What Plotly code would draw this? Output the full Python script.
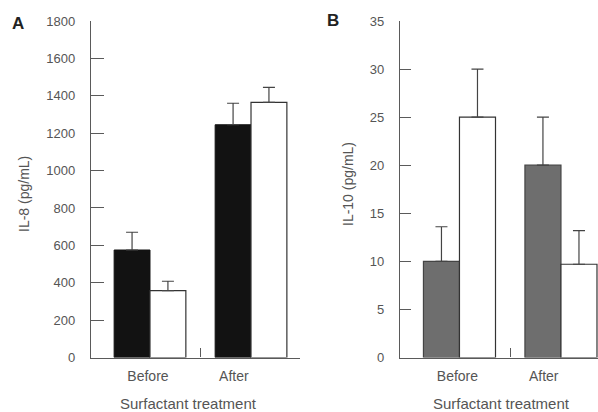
import plotly.graph_objects as go

W, H = 598, 412

groups = ["Before", "After"]
group_pos = [0, 1]
label_pos = [-0.02, 0.83]

il8_black = [575, 1245]
il8_black_err = [95, 115]
il8_white = [358, 1365]
il8_white_err = [50, 80]

il10_gray = [10, 20]
il10_gray_err = [3.6, 5]
il10_white = [25, 9.7]
il10_white_err = [5, 3.5]

il8_ticks = list(range(0, 1801, 200))
il10_ticks = list(range(0, 36, 5))

TXT = "#555555"
AX = "#5a5a5a"
FONT = "Liberation Sans, Arial, sans-serif"


def px(x):
    return x / W


def py(y):
    return 1 - y / H


def err(vals):
    return dict(type="data", symmetric=False, array=vals, arrayminus=[0] * len(vals),
                color="#444444", thickness=1.2, width=6)


fig = go.Figure()
fig.add_bar(x=group_pos, y=il8_black, error_y=err(il8_black_err), marker=dict(color="#121212", line=dict(color="#121212", width=1)),
            xaxis="x", yaxis="y", offsetgroup="a1", showlegend=False)
fig.add_bar(x=group_pos, y=il8_white, error_y=err(il8_white_err), marker=dict(color="white", line=dict(color="#333333", width=1.2)),
            xaxis="x", yaxis="y", offsetgroup="a2", showlegend=False)
fig.add_bar(x=group_pos, y=il10_gray, error_y=err(il10_gray_err), marker=dict(color="#6e6e6e", line=dict(color="#444444", width=1.2)),
            xaxis="x2", yaxis="y2", offsetgroup="b1", showlegend=False)
fig.add_bar(x=group_pos, y=il10_white, error_y=err(il10_white_err), marker=dict(color="white", line=dict(color="#333333", width=1.2)),
            xaxis="x2", yaxis="y2", offsetgroup="b2", showlegend=False)

ydom = [py(357.5), py(21)]

xcommon = dict(showline=True, linecolor=AX, linewidth=1.3, showgrid=False, zeroline=False, automargin=False,
               tickmode="array", tickvals=label_pos, ticktext=groups, ticks="", ticklabelstandoff=6,
               tickfont=dict(family=FONT, size=14, color=TXT),
               minor=dict(tickmode="array", tickvals=[0.5], ticks="inside", ticklen=9, tickcolor=AX, tickwidth=1.3))
ycommon = dict(showline=True, linecolor=AX, linewidth=1.3, showgrid=False, zeroline=False, automargin=False,
               tickmode="array", ticks="inside", tickcolor=AX, tickwidth=1.3, ticklabelstandoff=12,
               tickfont=dict(family=FONT, size=13, color=TXT), domain=ydom)

fig.update_layout(
    width=W, height=H, margin=dict(l=0, r=0, t=0, b=0, autoexpand=False),
    paper_bgcolor="white", plot_bgcolor="white",
    barmode="group", bargap=0.29, bargroupgap=0,
    xaxis=dict(domain=[px(91), px(300)], range=[-0.584, 1.485], anchor="y", **xcommon),
    yaxis=dict(range=[0, 1800], tickvals=il8_ticks, ticklen=13, anchor="x", **ycommon),
    xaxis2=dict(domain=[px(400), 1.0], range=[-0.586, 1.365], anchor="y2", **xcommon),
    yaxis2=dict(range=[0, 35], tickvals=il10_ticks, ticklen=11, anchor="x2", **ycommon),
    font=dict(family=FONT, color=TXT),
)

ann = [
    dict(text="<b>A</b>", x=px(18), y=py(24), size=17, color="#222222", angle=0),
    dict(text="<b>B</b>", x=px(333), y=py(21), size=17, color="#222222", angle=0),
    dict(text="IL-8 (pg/mL)", x=px(24), y=py(194), size=14, color=TXT, angle=-90),
    dict(text="IL-10 (pg/mL)", x=px(348), y=py(184), size=14, color=TXT, angle=-90),
    dict(text="Surfactant treatment", x=px(188), y=py(403), size=15, color=TXT, angle=0),
    dict(text="Surfactant treatment", x=px(501), y=py(403), size=15, color=TXT, angle=0),
]
for a in ann:
    fig.add_annotation(text=a["text"], x=a["x"], y=a["y"], xref="paper", yref="paper",
                       showarrow=False, textangle=a["angle"], xanchor="center", yanchor="middle",
                       font=dict(family=FONT, size=a["size"], color=a["color"]))

fig.write_html("out.html", config={"displayModeBar": False},
               post_script="document.body.style.margin='0';document.body.style.overflow='hidden';")
